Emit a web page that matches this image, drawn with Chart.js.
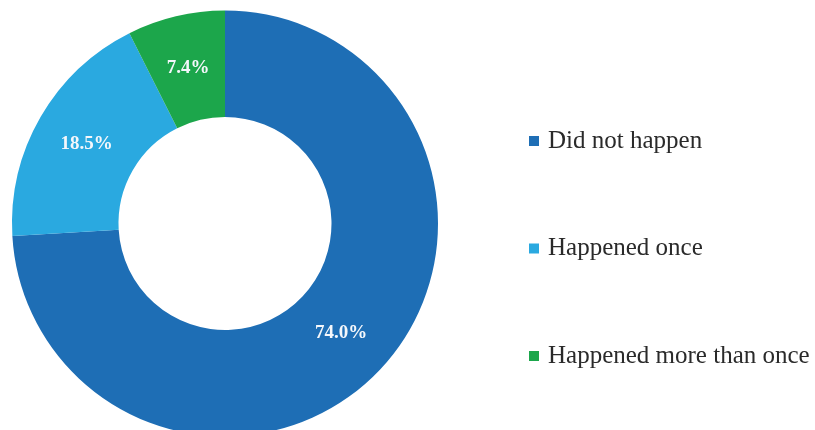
<!DOCTYPE html>
<html>
<head>
  <title>Doughnut</title>
  <script src="https://cdn.jsdelivr.net/npm/chart.js"></script>
  <style>
    html, body { margin: 0; padding: 0; overflow: hidden; background: #fff; }
    #wrap { position: absolute; left: 0; top: -4px; width: 815px; height: 455px; }
  </style>
</head>
<body>
  <div id="wrap"><canvas id="pieChart"></canvas></div>

  <script>
    const categories = ['Did not happen', 'Happened once', 'Happened more than once'];
    const shares = [74.0, 18.5, 7.4];
    const colors = ['#1e6eb5', '#2aa9e0', '#1ca64b'];

    // draws the percentage inside each slice
    const sliceLabels = {
      id: 'sliceLabels',
      afterDatasetsDraw(chart) {
        const ctx = chart.ctx;
        const meta = chart.getDatasetMeta(0);
        ctx.save();
        ctx.font = 'bold 19px "Liberation Serif", serif';
        ctx.fillStyle = '#f4f7fb';
        ctx.textAlign = 'center';
        ctx.textBaseline = 'middle';
        meta.data.forEach((arc, i) => {
          const pos = arc.tooltipPosition();
          ctx.fillText(shares[i].toFixed(1) + '%', pos.x, pos.y);
        });
        ctx.restore();
      }
    };

    const ctx = document.getElementById('pieChart').getContext('2d');

    const pieChart = new Chart(ctx, {
      type: 'doughnut',
      data: {
        labels: categories,
        datasets: [{
          data: shares,
          backgroundColor: colors,
          borderWidth: 0,
          hoverOffset: 0,
          clip: false
        }]
      },
      options: {
        responsive: true,
        maintainAspectRatio: false,
        animation: false,
        radius: 213,
        cutout: '50%',
        layout: { padding: 0 },
        plugins: {
          tooltip: { enabled: false },
          legend: {
            position: 'right',
            align: 'end',
            maxWidth: 365,
            labels: {
              usePointStyle: true,
              pointStyle: 'rect',
              boxWidth: 3,
              boxHeight: 10,
              padding: 82.5,
              color: '#2a2a2a',
              font: { family: '"Liberation Serif", serif', size: 25 }
            }
          }
        }
      },
      plugins: [sliceLabels]
    });
  </script>
</body>
</html>
